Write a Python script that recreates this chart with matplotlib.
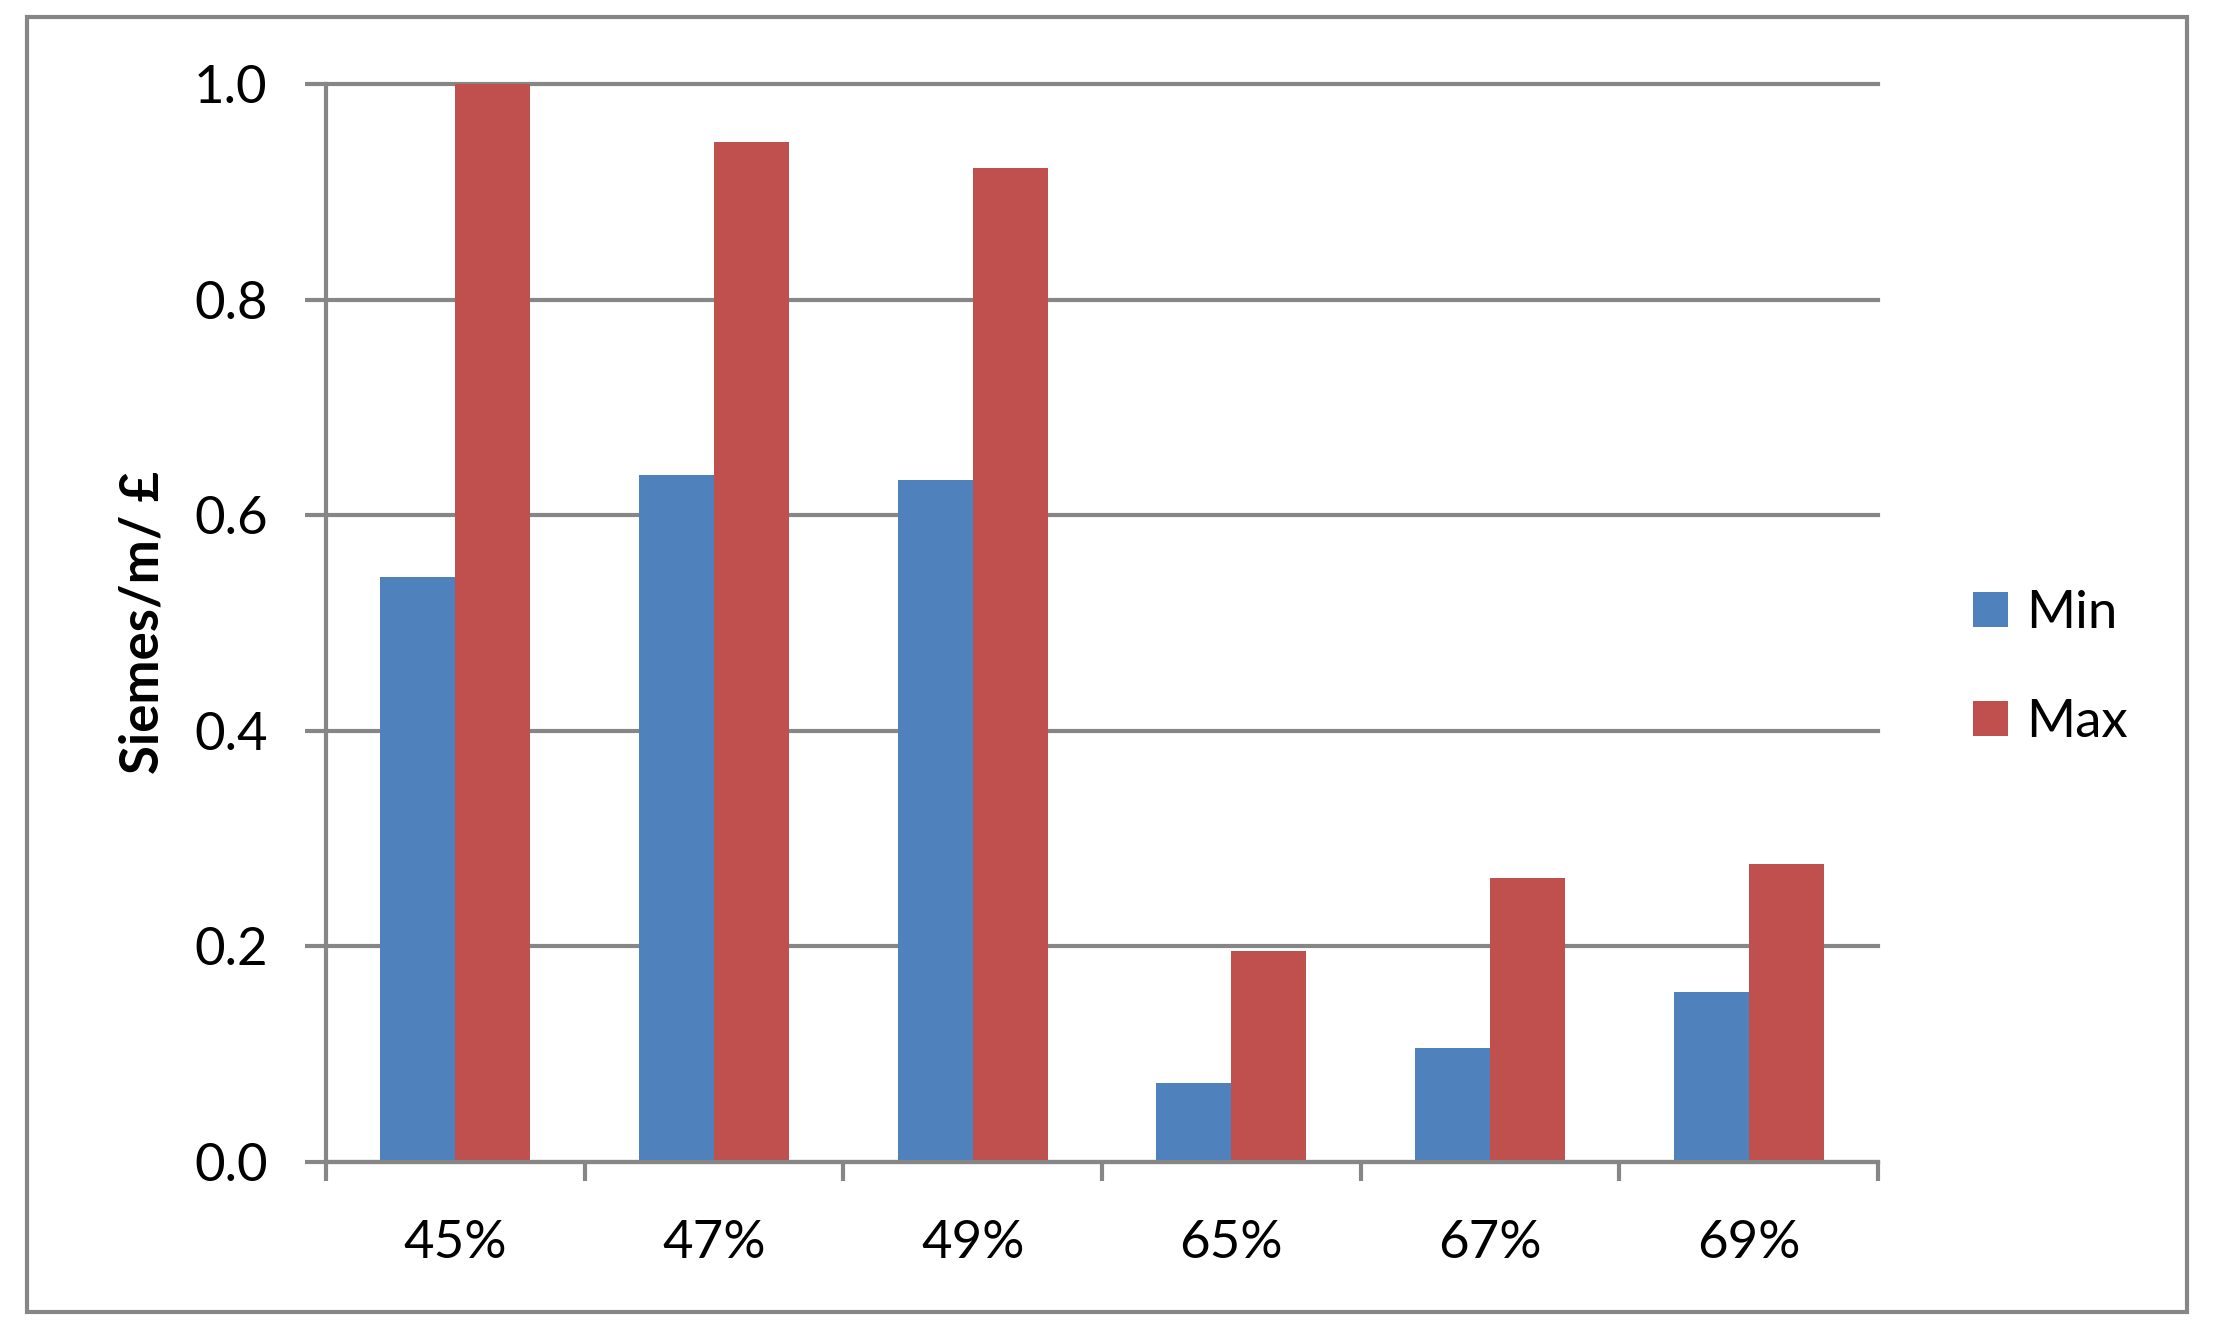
"""
Siemens/m por libra: barras Min/Max por concentración
"""

import matplotlib
matplotlib.use('Agg')
import matplotlib.pyplot as plt
from matplotlib.patches import Rectangle
import numpy as np

# Datos
categories = ['45%', '47%', '49%', '65%', '67%', '69%']
min_values = [0.543, 0.637, 0.633, 0.073, 0.106, 0.158]
max_values = [1.000, 0.946, 0.922, 0.196, 0.263, 0.276]
y_ticks = [0.0, 0.2, 0.4, 0.6, 0.8, 1.0]

BLUE = '#4F81BD'
RED = '#C0504D'
GRAY = '#868686'

plt.rcParams['font.family'] = ['Lato', 'DejaVu Sans']

W, H = 2219, 1339
fig = plt.figure(figsize=(W / 100, H / 100), dpi=100)

# marco exterior del gráfico
fig.patches.append(Rectangle((27 / W, 1 - 1312 / H), (2187 - 27) / W, (1312 - 17) / H,
                             transform=fig.transFigure, fill=False,
                             edgecolor=GRAY, linewidth=3))

ax = fig.add_axes([326 / W, 1 - 1162 / H, (1878 - 326) / W, (1162 - 84) / H])

x = np.arange(len(categories))
width = 0.29
ax.bar(x - width / 2, min_values, width, color=BLUE, label='Min', zorder=2)
ax.bar(x + width / 2, max_values, width, color=RED, label='Max', zorder=2)

ax.set_xlim(-0.5, len(categories) - 0.5)
ax.set_ylim(0, 1.0)

# eje y
ax.set_yticks(y_ticks)
ax.set_yticklabels([f'{v:.1f}' for v in y_ticks])
ax.yaxis.grid(True, color=GRAY, linewidth=3)
for line in ax.get_ygridlines():
    line.set_clip_on(False)
ax.set_axisbelow(True)

# eje x: marcas entre categorías
ax.set_xticks(np.arange(-0.5, len(categories), 1.0))
ax.set_xticklabels([])
ax.set_xticks(x, minor=True)
ax.set_xticklabels(categories, minor=True)
ax.tick_params(axis='x', which='minor', length=0, pad=42, labelsize=38)
ax.tick_params(axis='x', which='major', length=14, width=3, color=GRAY, direction='out')
ax.tick_params(axis='y', length=15, width=3, color=GRAY, pad=27, labelsize=38)

for side in ['top', 'right']:
    ax.spines[side].set_visible(False)
for side in ['left', 'bottom']:
    ax.spines[side].set_color(GRAY)
    ax.spines[side].set_linewidth(3)

fig.text(143 / W, 1 - 622 / H, 'Siemes/m/ £', rotation=90, ha='center', va='center',
         fontsize=38, fontweight='bold')

ax.legend(loc='center left', bbox_to_anchor=(1973 / W, 1 - 668 / H),
          bbox_transform=fig.transFigure, frameon=False, fontsize=38,
          handlelength=0.66, handleheight=0.66, handletextpad=0.34,
          labelspacing=1.17, borderpad=0, borderaxespad=0)

plt.savefig('out.png', dpi=100)
plt.close()
